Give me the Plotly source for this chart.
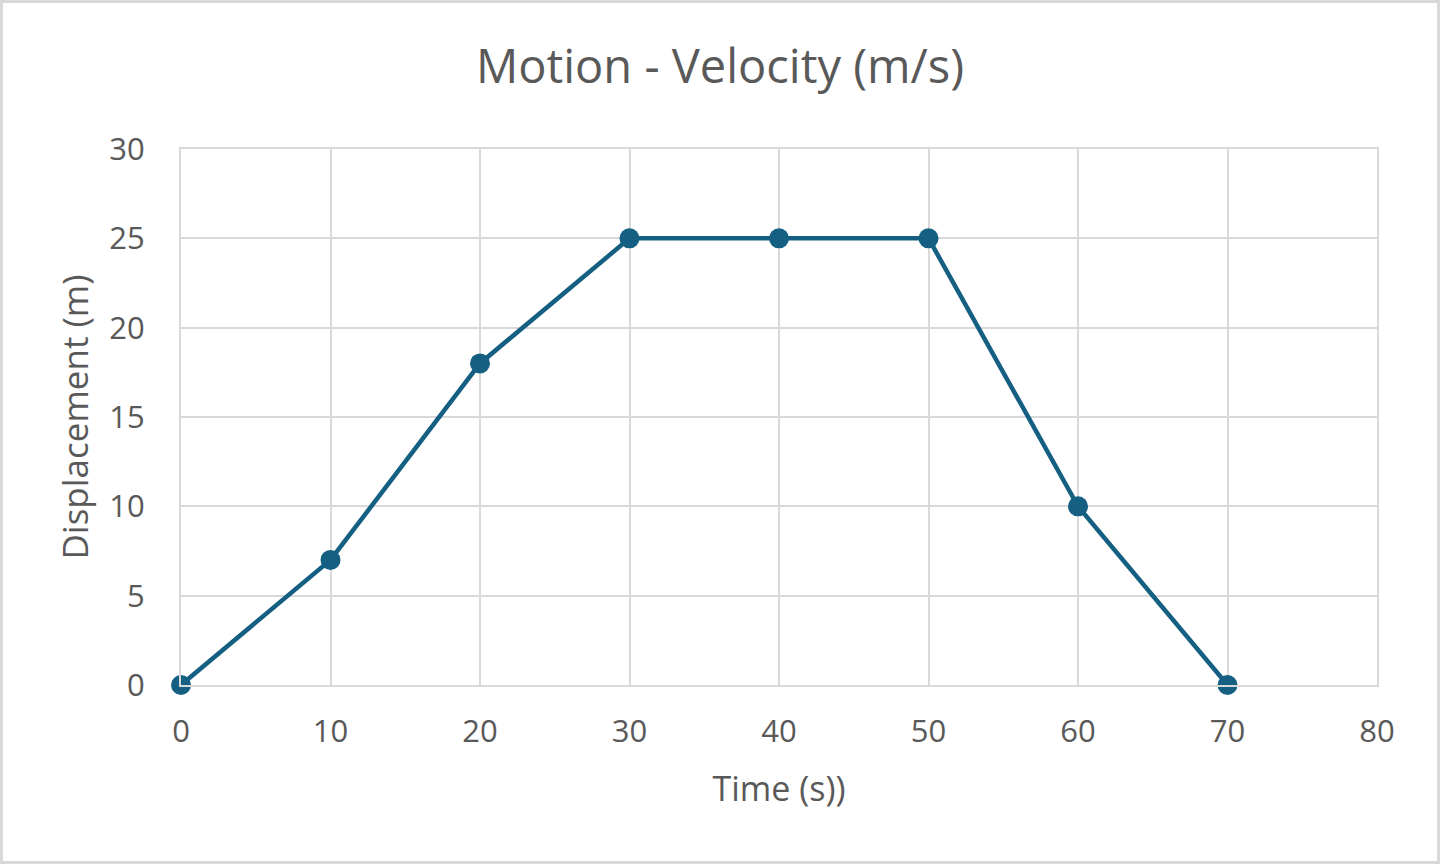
import plotly.graph_objects as go

time_s = [0, 10, 20, 30, 40, 50, 60, 70]
displacement_m = [0, 7, 18, 25, 25, 25, 10, 0]
x_ticks = [0, 10, 20, 30, 40, 50, 60, 70, 80]
y_ticks = [0, 5, 10, 15, 20, 25, 30]

W, H = 1440, 864
ML, MR, MT, MB = 181, 63, 149, 179
PW, PH = W - ML - MR, H - MT - MB

FONT = "Open Sans, Lato, Arial, sans-serif"
TXT = "#595959"
GRID = "#d9d9d9"
LINE = "#156082"

fig = go.Figure()
fig.add_trace(go.Scatter(
    x=time_s, y=displacement_m, mode="lines+markers",
    line=dict(color=LINE, width=4.5),
    marker=dict(color=LINE, size=20),
    cliponaxis=False, showlegend=False,
))

def px(v):
    return v / PW

def py(v):
    return v / PH

fig.add_shape(type="rect", xref="paper", yref="paper",
              x0=px(-ML + 1.5), x1=px(W - ML - 1.5),
              y0=py(-MB + 1.5), y1=py(H - MB - 1.5),
              line=dict(color=GRID, width=3), layer="below")

fig.update_layout(
    width=W, height=H,
    margin=dict(l=ML, r=MR, t=MT, b=MB),
    paper_bgcolor="white", plot_bgcolor="white",
    font=dict(family=FONT, color=TXT),
    title=dict(text="Motion - Velocity (m/s)", x=0.5, xanchor="center",
               y=1 - 67 / H, yanchor="middle",
               font=dict(size=47, color=TXT, family=FONT)),
    xaxis=dict(range=[0, 80], tickvals=x_ticks, showgrid=True, gridcolor=GRID,
               gridwidth=2, zeroline=False, showline=True, linecolor=GRID,
               linewidth=2, mirror=True, ticks="", ticklabelstandoff=18,
               tickfont=dict(size=31, color=TXT),
               title=dict(text="Time (s))", font=dict(size=34, color=TXT), standoff=27)),
    yaxis=dict(range=[0, 30], tickvals=y_ticks, showgrid=True, gridcolor=GRID,
               gridwidth=2, zeroline=False, showline=True, linecolor=GRID,
               linewidth=2, mirror=True, ticks="", ticklabelstandoff=28,
               tickfont=dict(size=31, color=TXT),
               title=dict(text="Displacement (m)", font=dict(size=35, color=TXT), standoff=10)),
)

fig.write_html("out.html")
